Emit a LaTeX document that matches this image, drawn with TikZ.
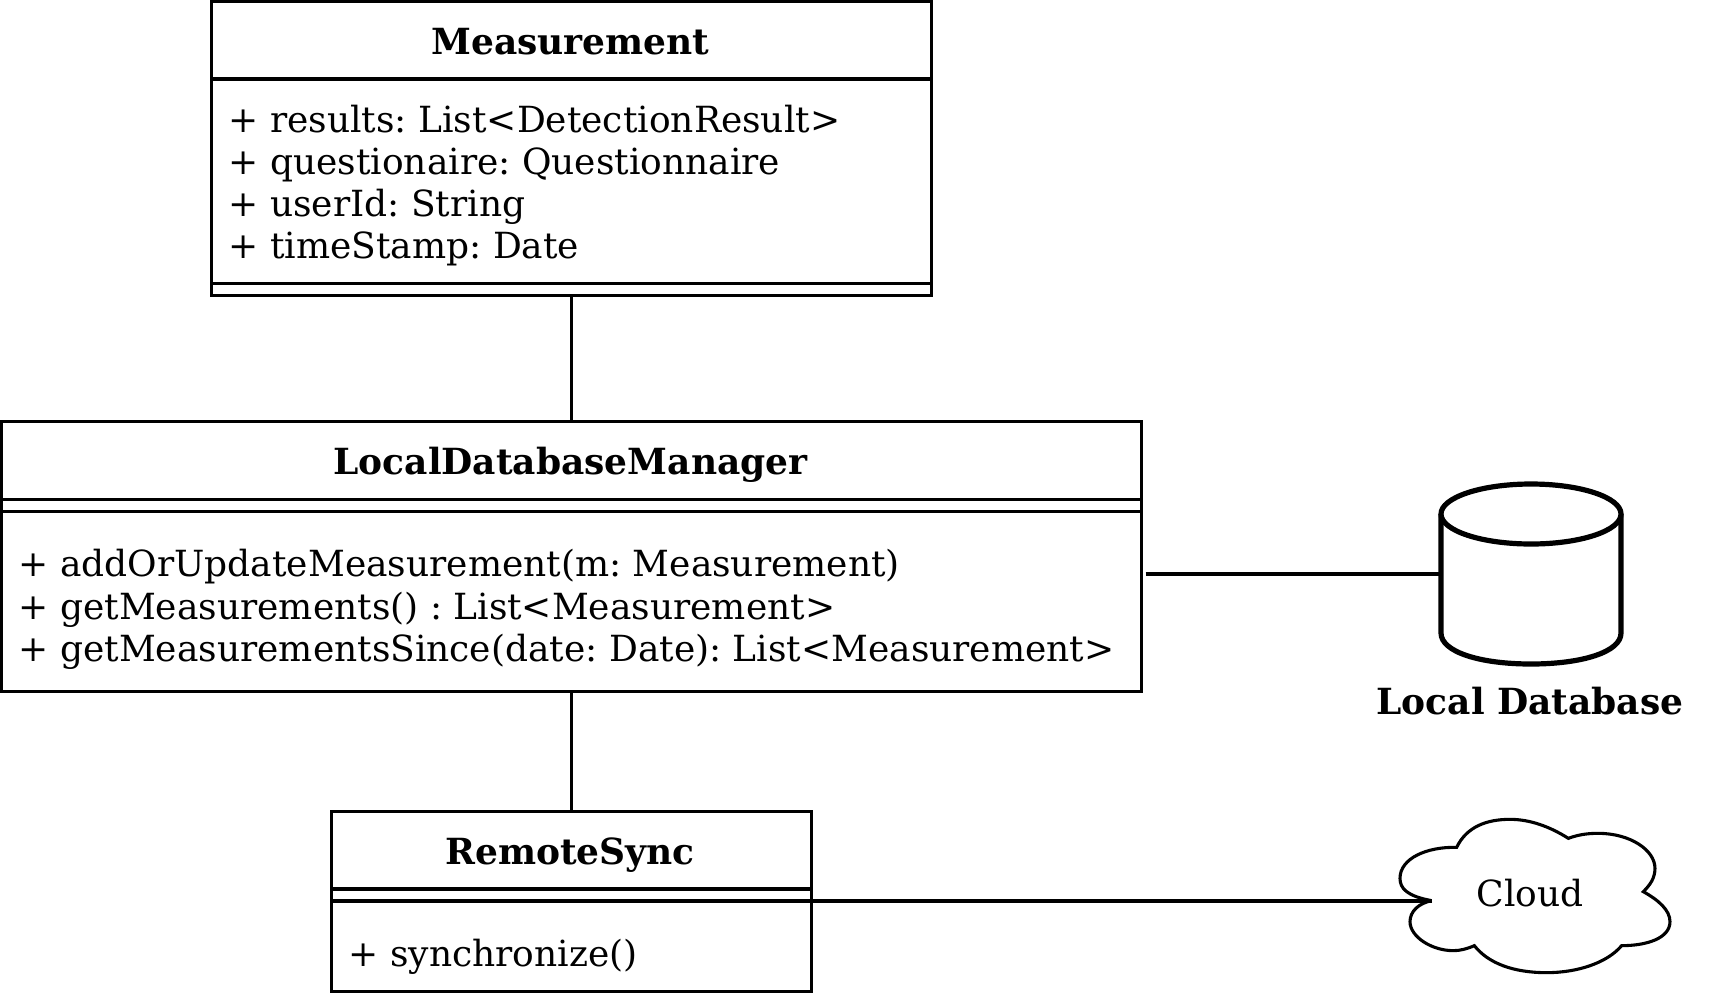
\documentclass[tikz,border=0pt]{standalone}
\usepackage{fontspec}
\setmainfont{DejaVu Serif}
\usetikzlibrary{calc}
\tikzset{
  x=1pt,y=-1pt,
  line/.style={draw=black,line width=3.1pt},
  umlbox/.style={line,rectangle,inner sep=0pt,outer sep=0pt},
  ghost/.style={rectangle,inner sep=0pt,outer sep=0pt},
  member/.style={anchor=base west,inner sep=0pt,font=\fontsize{36}{42}\selectfont\frenchspacing},
  title/.style={anchor=base,inner sep=0pt,font=\fontsize{36}{42}\selectfont\bfseries},
  plain/.style={anchor=base,inner sep=0pt,font=\fontsize{36}{42}\selectfont},
}
\begin{document}
\begin{tikzpicture}
\useasboundingbox (0,0) rectangle (1728,1002);
% boxes
\node[umlbox,minimum width=720pt,minimum height=294.5pt] (meas) at (571.5,148.25) {};
\node[umlbox,minimum width=1140pt,minimum height=270pt] (ldm) at (571.5,556.5) {};
\node[umlbox,minimum width=480pt,minimum height=179.5pt] (rs) at (571.5,901.5) {};
% compartment rules
\draw[line] (meas.west |- 0,79) -- (meas.east |- 0,79);
\draw[line] (meas.west |- 0,283.5) -- (meas.east |- 0,283.5);
\draw[line] (ldm.west |- 0,499.5) -- (ldm.east |- 0,499.5);
\draw[line] (ldm.west |- 0,511.5) -- (ldm.east |- 0,511.5);
\draw[line] (rs.west |- 0,889) -- (rs.east |- 0,889);
\draw[line] (rs.west |- 0,901) -- (rs.east |- 0,901);
% titles
\node[title] (tmeas) at (570.5,54.5) {Measurement};
\node[title] (tldm) at (570.5,474.5) {LocalDatabaseManager};
\node[title] (trs) at (570,864.5) {RemoteSync};
% members
\node[member] (m1) at (228.5,132) {+ results: List<DetectionResult>};
\node[member] (m2) at (228.5,174) {+ questionaire: Questionnaire};
\node[member] (m3) at (228.5,216) {+ userId: String};
\node[member] (m4) at (228.5,258) {+ timeStamp: Date};
\node[member] (l1) at (18.5,576.5) {+ addOrUpdateMeasurement(m: Measurement)};
\node[member] (l2) at (18.5,619) {+ getMeasurements() : List<Measurement>};
\node[member] (l3) at (18.5,661) {+ getMeasurementsSince(date: Date): List<Measurement>};
\node[member] (r1) at (348.5,966) {+ synchronize()};
% database
\node[ghost,minimum width=180pt,minimum height=181pt] (db) at (1531,574) {};
\draw[draw=black,line width=5.2pt,fill=white]
  (1441,514) -- (1441,633)
  .. controls (1441,652) and (1480,664) .. (1531,664)
  .. controls (1582,664) and (1621,652) .. (1621,633)
  -- (1621,514);
\draw[draw=black,line width=5.2pt,fill=white] (1531,514) ellipse [x radius=90,y radius=30];
\node[title] (tdb) at (1530,714) {Local Database};
% cloud
\node[ghost,minimum width=270pt,minimum height=155pt] (cloud) at (1540,897) {};
\begin{scope}[shift={(1360,790)},x=0.3333pt,y=-0.3333pt]
\draw[line,line join=miter]
  (215,332) .. controls (140,318) and (120,295) .. (120,265)
  .. controls (120,205) and (200,170) .. (290,172)
  .. controls (320,110) and (380,88) .. (450,88)
  .. controls (510,88) and (570,110) .. (625,145)
  .. controls (660,132) and (690,130) .. (715,130)
  .. controls (810,130) and (885,180) .. (885,235)
  .. controls (885,265) and (870,285) .. (850,305)
  .. controls (895,330) and (930,360) .. (930,395)
  .. controls (930,445) and (860,467) .. (785,467)
  .. controls (740,520) and (650,548) .. (560,548)
  .. controls (460,548) and (385,520) .. (343,467)
  .. controls (320,477) and (300,482) .. (280,482)
  .. controls (215,482) and (150,440) .. (150,395)
  .. controls (150,365) and (175,340) .. (215,332);
\end{scope}
\node[plain] (tcloud) at (1530,906) {Cloud};
% connectors
\coordinate (ldmr) at ($(ldm.east)+(4,17.5)$);
\coordinate (cloudtip) at (1432,901);
\draw[line] (meas.south -| 571.5,0) -- (ldm.north -| 571.5,0);
\draw[line] (ldm.south -| 571.5,0) -- (rs.north -| 571.5,0);
\draw[line] (ldmr) -- (db.west |- ldmr);
\draw[line] (rs.east |- cloudtip) -- (cloudtip);
\end{tikzpicture}
\end{document}
